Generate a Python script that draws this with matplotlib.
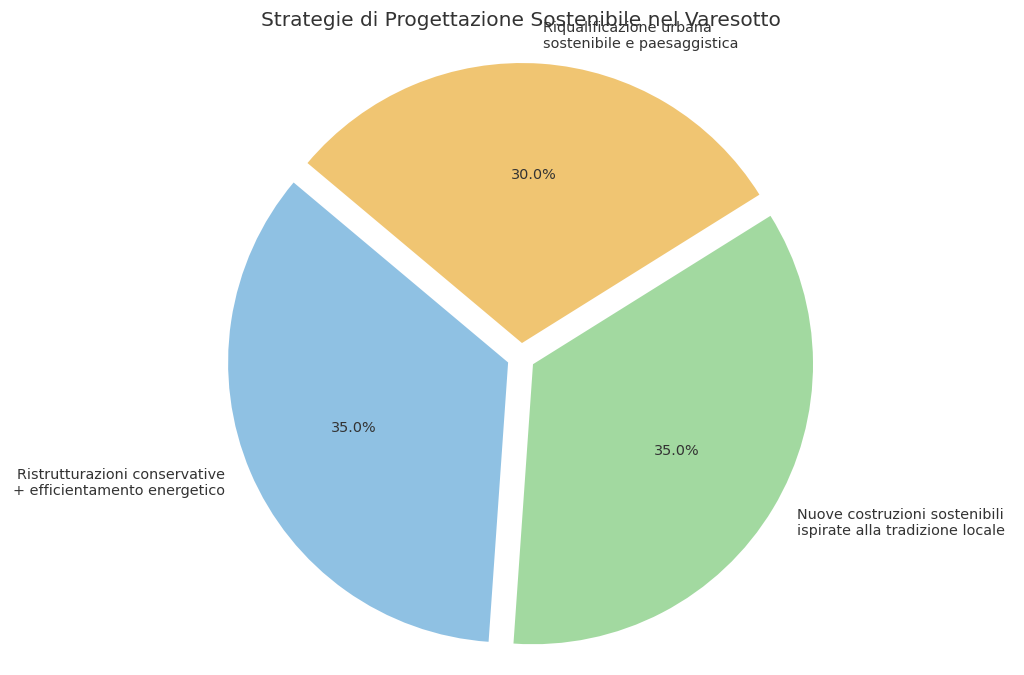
import matplotlib
matplotlib.use("Agg")
import matplotlib.pyplot as plt

# data
labels = [
    "Ristrutturazioni conservative\n+ efficientamento energetico",
    "Nuove costruzioni sostenibili\nispirate alla tradizione locale",
    "Riqualificazione urbana\nsostenibile e paesaggistica",
]
shares = [35, 35, 30]
colors = ["#8fc1e3", "#a2d9a0", "#f0c572"]
explode = [0.05, 0.05, 0.05]

W, H = 1024, 675
fig = plt.figure(figsize=(W / 100, H / 100), dpi=100)
ax = fig.add_axes([0, 0, 1, 1])

wedges, texts, autotexts = ax.pie(
    shares, labels=labels, colors=colors, explode=explode,
    autopct="%1.1f%%", startangle=140,
    textprops={"fontsize": 10.4, "color": "#333333"},
)

# place pie: centre at (521, 357) px, radius 280 px
r_px, cx, cy = 280, 521, 357
ax.set_xlim(-cx / r_px, (W - cx) / r_px)
ax.set_ylim(-(H - cy) / r_px, cy / r_px)
ax.set_aspect("auto")
ax.axis("off")

# title overlaps the top label in the original too
fig.text(cx / W, 1 - 20 / H, "Strategie di Progettazione Sostenibile nel Varesotto",
         ha="center", va="center", fontsize=14.5, color="#333333")

fig.savefig("out.png", dpi=100)
